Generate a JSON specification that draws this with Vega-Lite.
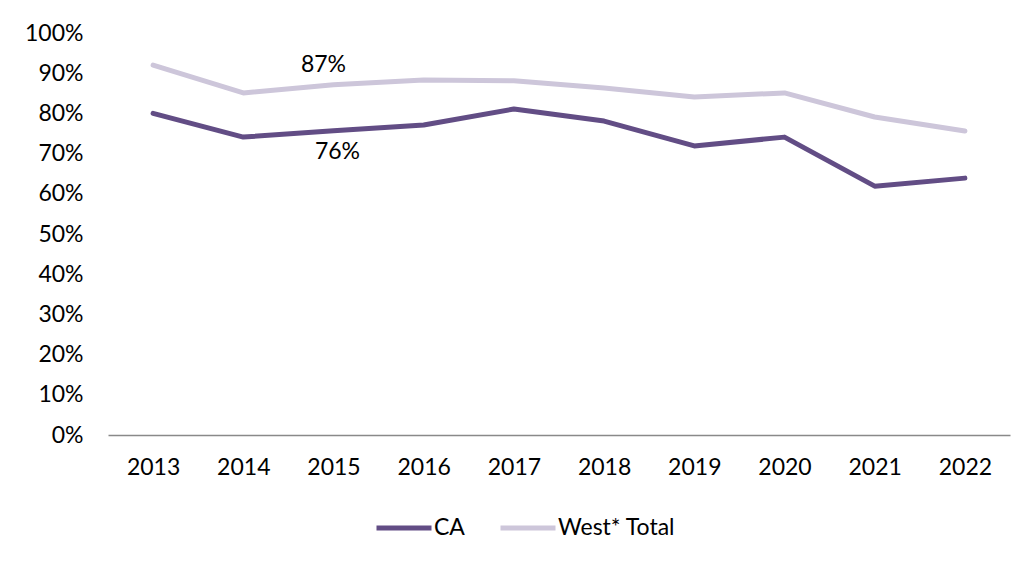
{
  "$schema": "https://vega.github.io/schema/vega-lite/v6.json",
  "width": 902,
  "height": 402,
  "autosize": "none",
  "padding": {"left": 108, "top": 33, "right": 21, "bottom": 128},
  "background": "white",
  "config": {
    "view": {"stroke": null},
    "font": "Lato",
    "text": {"font": "Lato", "fontSize": 23, "color": "#000000"}
  },
  "data": {
    "values": [
      {"year": "2013", "series": "CA", "value": 0.80},
      {"year": "2014", "series": "CA", "value": 0.741},
      {"year": "2015", "series": "CA", "value": 0.757},
      {"year": "2016", "series": "CA", "value": 0.771},
      {"year": "2017", "series": "CA", "value": 0.811},
      {"year": "2018", "series": "CA", "value": 0.781},
      {"year": "2019", "series": "CA", "value": 0.719},
      {"year": "2020", "series": "CA", "value": 0.741},
      {"year": "2021", "series": "CA", "value": 0.619},
      {"year": "2022", "series": "CA", "value": 0.639},
      {"year": "2013", "series": "West* Total", "value": 0.92},
      {"year": "2014", "series": "West* Total", "value": 0.851},
      {"year": "2015", "series": "West* Total", "value": 0.871},
      {"year": "2016", "series": "West* Total", "value": 0.883},
      {"year": "2017", "series": "West* Total", "value": 0.881},
      {"year": "2018", "series": "West* Total", "value": 0.863},
      {"year": "2019", "series": "West* Total", "value": 0.841},
      {"year": "2020", "series": "West* Total", "value": 0.851},
      {"year": "2021", "series": "West* Total", "value": 0.791},
      {"year": "2022", "series": "West* Total", "value": 0.756}
    ]
  },
  "encoding": {
    "x": {
      "field": "year", "type": "ordinal",
      "scale": {"type": "point", "padding": 0.5},
      "axis": {
        "title": null, "labelAngle": 0, "ticks": false,
        "domainColor": "#898989", "domainWidth": 1.5,
        "labelFont": "Lato", "labelFontSize": 23, "labelColor": "#000000",
        "labelPadding": 21
      }
    },
    "y": {
      "field": "value", "type": "quantitative",
      "scale": {"domain": [0, 1]},
      "axis": {
        "title": null, "format": ".0%", "values": [0,0.1,0.2,0.3,0.4,0.5,0.6,0.7,0.8,0.9,1],
        "labelOverlap": false,
        "domain": false, "ticks": false, "grid": false,
        "labelFont": "Lato", "labelFontSize": 23, "labelColor": "#000000",
        "labelPadding": 25
      }
    }
  },
  "layer": [
    {
      "mark": {"type": "line", "strokeWidth": 5, "strokeCap": "round", "strokeJoin": "round"},
      "encoding": {
        "color": {
          "field": "series", "type": "nominal",
          "scale": {"domain": ["CA", "West* Total"], "range": ["#624D85", "#CDC6DA"]},
          "legend": {
            "title": null, "orient": "none", "direction": "horizontal",
            "legendX": 266, "legendY": 465,
            "symbolType": "stroke", "symbolSize": 3025, "symbolStrokeWidth": 5,
            "labelFont": "Lato", "labelFontSize": 23, "labelColor": "#000000",
            "labelOffset": 0, "columnPadding": 25
          }
        }
      }
    },
    {
      "transform": [{"filter": "datum.year == '2015' && datum.series == 'West* Total'"}],
      "mark": {"type": "text", "dy": -20, "dx": -10},
      "encoding": {"text": {"field": "value", "format": ".0%"}}
    },
    {
      "transform": [{"filter": "datum.year == '2015' && datum.series == 'CA'"}],
      "mark": {"type": "text", "dy": 21, "dx": 4},
      "encoding": {"text": {"field": "value", "format": ".0%"}}
    }
  ]
}
